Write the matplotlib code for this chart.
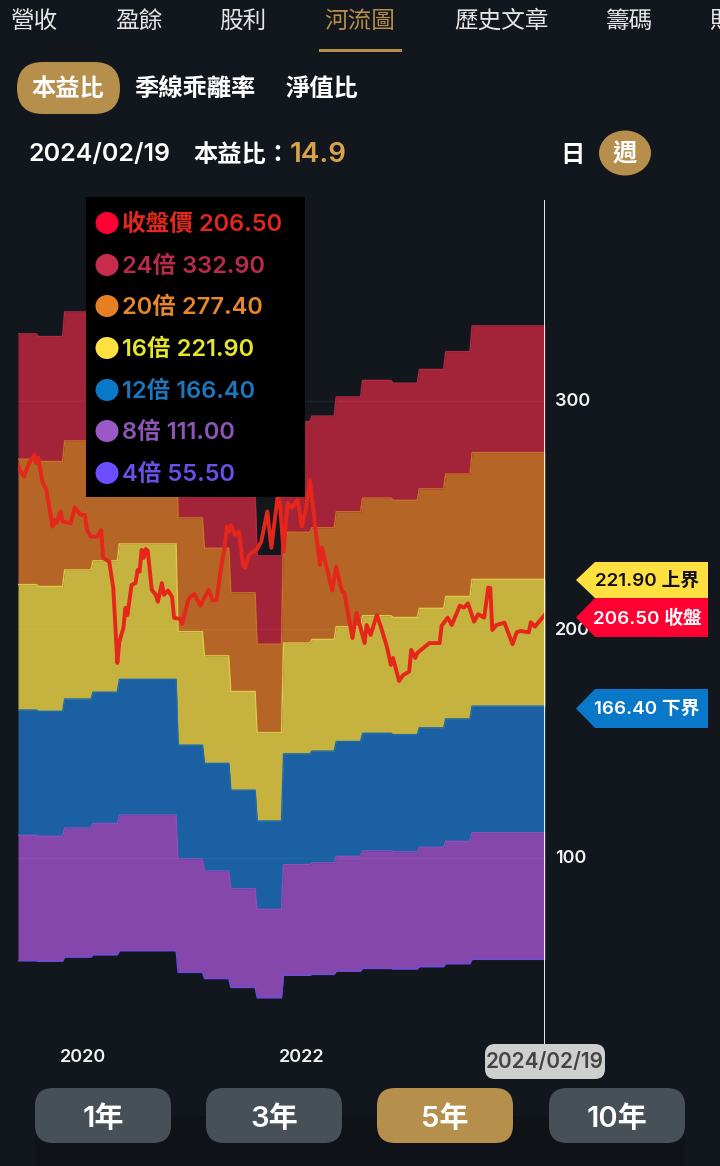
#!/usr/bin/env python3

import matplotlib
matplotlib.use("Agg")
import matplotlib.pyplot as plt
from matplotlib.patches import Ellipse, FancyBboxPatch, Polygon, Rectangle
from matplotlib.transforms import ScaledTranslation
import numpy as np

plt.rcParams["font.family"] = ["Inter", "Noto Sans CJK TC", "DejaVu Sans"]
plt.rcParams["font.weight"] = 500

BG = "#12161d"
GOLD = "#b78f4c"
HEAVY = 600

# weeks since 2019/02/25 where the quarterly EPS (and so every band) steps
step_weeks = [0, 10, 23, 37, 50, 79, 92, 105, 118, 131, 145, 157, 170, 185, 198, 211, 224, 260]

band_4x = [54.9, 54.7, 56.5, 57.5, 59.3, 49.8, 47.1, 43.2, 38.7, 48.5, 48.9, 50.3, 51.5, 51.3, 52.3, 53.6, 55.5]
band_8x = [109.8, 109.4, 113.0, 115.0, 118.7, 99.5, 94.2, 86.4, 77.4, 97.0, 97.8, 100.6, 103.0, 102.6, 104.6, 107.2, 111.0]
band_12x = [164.7, 164.1, 169.5, 172.5, 178.1, 149.3, 141.3, 129.6, 116.1, 145.5, 146.7, 150.9, 154.5, 153.9, 156.9, 160.8, 166.4]
band_16x = [219.6, 218.8, 226.0, 230.0, 237.4, 199.0, 188.4, 172.8, 154.8, 194.0, 195.6, 201.2, 206.0, 205.2, 209.2, 214.4, 221.9]
band_20x = [274.5, 273.5, 282.5, 287.5, 296.8, 248.8, 235.5, 216.0, 193.5, 242.5, 244.5, 251.5, 257.5, 256.5, 261.5, 268.0, 277.4]
band_24x = [329.4, 328.2, 339.0, 345.0, 356.1, 298.5, 282.6, 259.2, 232.2, 291.0, 293.4, 301.8, 309.0, 307.8, 313.8, 321.6, 332.9]

price_weeks = [0, 1, 3, 5, 8, 9, 10, 12, 14, 17, 18, 19, 21, 22, 26, 28, 31, 33, 34, 36, 39, 41, 42, 45, 47, 48, 49,
               50, 52, 53, 54, 56, 58, 59, 60, 61, 62, 63, 64, 66, 68, 69, 71, 72, 74, 76, 77, 80, 81, 84, 85, 87,
               90, 94, 96, 98, 100, 102, 103, 104, 105, 107, 109, 111, 112, 114, 118, 120, 123, 125, 128, 129, 131,
               133, 135, 138, 140, 142, 144, 147, 149, 150, 155, 157, 159, 160, 161, 165, 167, 171, 172, 174, 177,
               179, 182, 184, 185, 188, 190, 193, 194, 196, 197, 203, 208, 209, 212, 214, 218, 220, 222, 225, 227,
               230, 232, 233, 234, 236, 240, 244, 246, 248, 252, 253, 255, 260]
price_values = [272.0, 269.4, 266.9, 272.0, 276.4, 272.9, 275.1, 264.7, 261.1, 245.0, 247.9, 246.5, 251.6, 247.2,
                246.5, 253.3, 250.1, 250.1, 243.5, 240.6, 240.6, 243.5, 231.3, 229.7, 218.1, 201.9, 185.3,
                194.6, 200.6, 209.4, 206.3, 219.4, 220.3, 226.0, 225.3, 234.8, 231.3, 235.2, 234.5, 217.3, 215.1,
                212.1, 220.3, 215.1, 217.0, 214.2, 205.0, 204.6, 202.4, 212.9, 214.2, 215.5, 210.3, 217.3, 212.6,
                212.9, 226.0, 236.2, 245.0, 242.8, 245.7, 241.3, 242.8, 228.2, 226.9, 232.6, 235.2, 238.4, 251.6,
                235.7, 257.6, 257.6, 234.0, 255.4, 253.2, 256.7, 245.0, 252.3, 265.4, 242.2, 228.2, 235.7, 217.0,
                227.5, 219.4, 216.5, 215.9, 196.2, 207.2, 194.0, 201.9, 197.5, 206.3, 201.2, 192.4, 184.4, 187.5,
                177.4, 180.0, 181.5, 191.0, 187.5, 189.7, 194.0, 194.0, 201.6, 205.1, 201.9, 210.4, 209.5, 211.4,
                203.4, 206.6, 205.1, 218.3, 218.1, 199.7, 201.9, 202.9, 193.5, 198.7, 199.3, 198.7, 203.1, 201.2,
                206.5]

x_tick_weeks = [32, 140]
x_tick_labels = ["2020", "2022"]
y_ticks = [100, 200, 300]

legend_names = ["收盤價", "24倍", "20倍", "16倍", "12倍", "8倍", "4倍"]
legend_values = ["206.50", "332.90", "277.40", "221.90", "166.40", "111.00", "55.50"]
legend_dots = ["#ff0033", "#c72c4f", "#e67e22", "#ffe040", "#0a78c8", "#9b59c8", "#6c4dff"]
legend_text = ["#e2281c", "#b82c4a", "#e8862a", "#e6e62b", "#1c78be", "#8e55b8", "#6a4fe8"]

tab_names = ["營收", "盈餘", "股利", "河流圖", "歷史文章", "籌碼", "財"]
tab_x = [35, 139, 243, 360, 501, 629, 721]
range_names = ["1年", "3年", "5年", "10年"]


def weekly(band):
    # hold each quarter's value, one week per sample, so a step slopes over a week
    return np.repeat(band, np.diff(step_weeks))


def draw_chart(ax):
    weeks = np.arange(step_weeks[-1])
    bands = [band_4x, band_8x, band_12x, band_16x, band_20x, band_24x]
    fills = ["#8647ad", "#1a60a2", "#c6b23f", "#b56526", "#a32339"]
    edges = ["#6a4fe0", "#8a50b8", "#1a6cb0", "#e0c848", "#c9702a", "#b02a42"]

    last = step_weeks[-1]
    for lower, upper, fill in zip(bands[:-1], bands[1:], fills):
        low = np.append(weekly(lower), lower[-1])
        up = np.append(weekly(upper), upper[-1])
        ax.fill_between(np.append(weeks, last), low, up, color=fill, linewidth=0, zorder=2)
    for band, edge in zip(bands, edges):
        ax.plot(np.append(weeks, last), np.append(weekly(band), band[-1]), color=edge, lw=1, zorder=3)

    ax.plot(price_weeks, price_values, color="#e5261a", lw=2.8, solid_joinstyle="round", zorder=5)
    ax.axvline(last, color="white", lw=2, zorder=6)

    ax.set_xlim(0, last)
    ax.set_ylim(18, 388)
    ax.set_facecolor("none")
    for spine in ax.spines.values():
        spine.set_visible(False)
    ax.set_xticks(x_tick_weeks, x_tick_labels)
    ax.set_yticks(y_ticks)
    ax.yaxis.tick_right()
    ax.grid(axis="y", color="white", alpha=0.05, lw=1, zorder=4)
    ax.set_axisbelow(False)
    ax.tick_params(axis="both", length=0, labelcolor="#f2f2f2", labelsize=13)
    ax.tick_params(axis="x", pad=3)
    ax.tick_params(axis="y", pad=7)
    for label in ax.get_xticklabels() + ax.get_yticklabels():
        label.set_fontweight(HEAVY)
    # the app's value labels sit a little above their gridlines
    nudge = ScaledTranslation(0, 1 / 100, ax.figure.dpi_scale_trans)
    for label in ax.get_yticklabels():
        label.set_transform(label.get_transform() + nudge)


def pill(ax, x0, y0, x1, y1, radius, color, zorder=2):
    ax.add_patch(FancyBboxPatch((x0 + radius, y0 + radius), x1 - x0 - 2 * radius, y1 - y0 - 2 * radius,
                                boxstyle="round,pad=%g,rounding_size=%g" % (radius, radius),
                                fc=color, ec="none", zorder=zorder))


def draw_tag(ax, top, bottom, color, label, text_color):
    mid = (top + bottom) / 2
    ax.add_patch(Polygon([(576, mid), (595, top), (708, top), (708, bottom), (595, bottom)],
                         fc=color, ec="none", zorder=3))
    ax.text(647, mid + 1, label, color=text_color, fontsize=13.5, fontweight=HEAVY,
            ha="center", va="center", zorder=4)


def draw_ui(ui):
    ui.set_xlim(0, 720)
    ui.set_ylim(1166, 0)
    ui.axis("off")

    for name, x in zip(tab_names, tab_x):
        ui.text(x, 22, name, color=GOLD if name == "河流圖" else "#e6e6e6", fontsize=17,
                ha="center", va="center")
    ui.add_patch(Rectangle((319, 49), 83, 3, fc=GOLD, ec="none"))

    pill(ui, 17, 62, 120, 114, 26, GOLD)
    ui.text(68, 89, "本益比", color="white", fontsize=17.5, fontweight=HEAVY, ha="center", va="center")
    ui.text(195, 89, "季線乖離率", color="white", fontsize=17.5, fontweight=HEAVY, ha="center", va="center")
    ui.text(322, 89, "淨值比", color="white", fontsize=17.5, fontweight=HEAVY, ha="center", va="center")

    ui.text(28, 155, "2024/02/19", color="white", fontsize=18, fontweight=HEAVY, ha="left", va="center")
    ui.text(193, 155, "本益比：", color="white", fontsize=17.5, fontweight=HEAVY, ha="left", va="center")
    ui.text(290, 155, "14.9", color="#d9a24a", fontsize=20, fontweight=HEAVY, ha="left", va="center")
    ui.text(572, 155, "日", color="white", fontsize=17.5, fontweight=HEAVY, ha="center", va="center")
    ui.add_patch(Ellipse((625, 153), 52, 45, fc=GOLD, ec="none"))
    ui.text(625, 155, "週", color="white", fontsize=17.5, fontweight=HEAVY, ha="center", va="center", zorder=3)

    # tooltip
    ui.add_patch(Rectangle((86, 197), 219, 300, fc="black", ec="none", zorder=3))
    rows = [223, 265, 306, 348, 390, 431, 473]
    for y, name, value, dot, col in zip(rows, legend_names, legend_values, legend_dots, legend_text):
        ui.add_patch(Ellipse((107, y), 23, 22, fc=dot, ec="none", zorder=4))
        ui.text(122, y + 2, name + " " + value, color=col, fontsize=17, fontweight=HEAVY,
                ha="left", va="center", zorder=4)

    draw_tag(ui, 562, 598, "#ffe040", "221.90 上界", "#111111")
    draw_tag(ui, 598, 637, "#ff0033", "206.50 收盤", "white")
    draw_tag(ui, 689, 728, "#0a78c8", "166.40 下界", "white")

    pill(ui, 485, 1044, 605, 1079, 10, "#cfcfcf")
    ui.text(545, 1062, "2024/02/19", color="#444444", fontsize=15, fontweight=HEAVY,
            ha="center", va="center", zorder=3)

    ui.add_patch(Rectangle((35, 1116), 650, 50, fc="#0f1216", ec="none", zorder=1))
    for i, (name, x0) in enumerate(zip(range_names, [35, 206, 377, 549])):
        pill(ui, x0, 1088, x0 + 136, 1143, 18, GOLD if i == 2 else "#474f57")
        ui.text(x0 + 68, 1119, name, color="white", fontsize=21, fontweight=HEAVY,
                ha="center", va="center", zorder=3)


def main():
    fig = plt.figure(figsize=(7.2, 11.66), dpi=100, facecolor=BG)
    # chart area spans x 18-545 and y 200-1045 in pixels
    ax = fig.add_axes([18 / 720, 1 - 1045 / 1166, 527 / 720, 845 / 1166], zorder=1)
    draw_chart(ax)
    ui = fig.add_axes([0, 0, 1, 1], zorder=2)
    ui.patch.set_alpha(0)
    draw_ui(ui)
    fig.savefig("out.png", dpi=100, facecolor=BG)


if __name__ == "__main__":
    main()
